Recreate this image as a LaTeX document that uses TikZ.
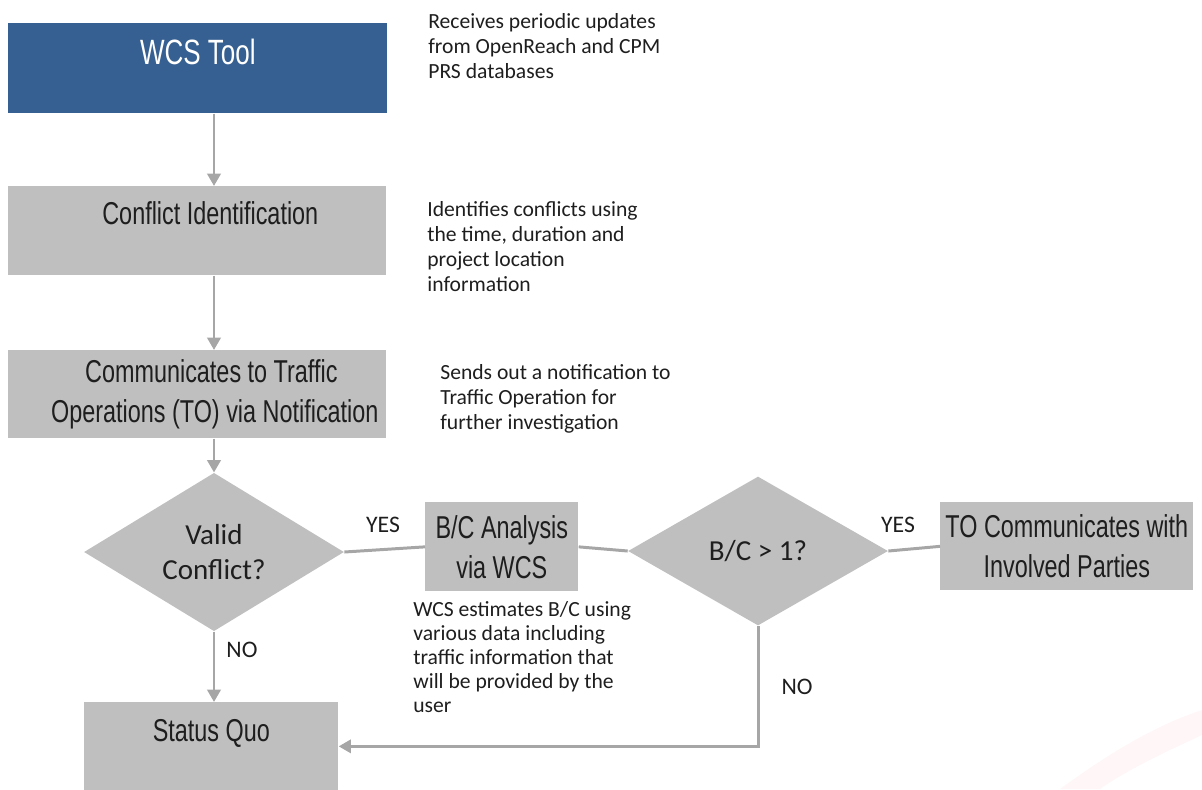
\documentclass[tikz,border=0pt]{standalone}
\usepackage{fontspec}
\setmainfont{Carlito}
\newfontfamily\boxfont[FakeStretch=0.74]{Liberation Sans}
\usepackage{xcolor}
\usetikzlibrary{arrows.meta,shapes.geometric}

\definecolor{wcsblue}{RGB}{55,96,146}
\definecolor{boxgray}{RGB}{191,191,191}
\definecolor{linegray}{RGB}{166,166,166}
\definecolor{inkgray}{RGB}{30,30,30}

\begin{document}
\begin{tikzpicture}[x=0.02cm,y=-0.02cm,
    >={Triangle[width=7.5pt,length=7pt]},
    stepbox/.style={fill=boxgray, inner sep=0pt, align=center,
        text=inkgray, font=\boxfont\fontsize{18}{22.7}\selectfont},
    decision/.style={diamond, fill=boxgray, inner sep=0pt,
        minimum width=5.2cm, minimum height=3cm, align=center,
        text=inkgray, font=\fontsize{16.5}{19.8}\selectfont},
    note/.style={align=left, inner sep=0pt, text=inkgray,
        font=\fontsize{12.3}{14.2}\selectfont},
    answer/.style={inner sep=0pt, text=inkgray,
        font=\fontsize{13.5}{16}\selectfont},
    flow/.style={draw=linegray, line width=1.7pt}]

    \useasboundingbox (0,0) rectangle (1202,789);

    % -- faint swoosh in the lower right corner --
    \fill[red!3] (1060,789) .. controls (1120,745) and (1165,722) .. (1202,710)
        -- (1202,735) .. controls (1170,750) and (1130,768) .. (1100,789) -- cycle;

    % -- Main column of boxes --
    % WCS tool at the top
    \node[stepbox, fill=wcsblue, text=white, anchor=north west,
          minimum width=7.58cm, text height=0.83cm, text depth=0.97cm,
          font=\boxfont\fontsize{20}{24}\selectfont] (wcs) at (8,23) {WCS Tool};

    % conflict identification (text sits a little right of centre)
    \node[stepbox, anchor=north west, minimum width=7.56cm,
          text height=0.76cm, text depth=1.02cm] (conf) at (8,186)
        {\hspace*{0.52cm}Conflict Identification};

    % notification to traffic operations
    \node[stepbox, anchor=north west, minimum width=7.56cm,
          minimum height=1.76cm] (comm) at (8,350)
        {\hspace*{0.56cm}Communicates to Traffic\\
         \hspace*{0.7cm}Operations (TO) via Notification};

    % first decision
    \node[decision] (valid) at (214,552) {Valid\\Conflict?};

    % status quo at the bottom
    \node[stepbox, anchor=north west, minimum width=5.08cm,
          text height=0.78cm, text depth=0.98cm] (status) at (84,702)
        {Status Quo};

    % -- Right branch --
    \node[stepbox, anchor=north west, minimum width=3.06cm,
          minimum height=1.78cm] (bca) at (425,502) {B/C Analysis\\via WCS};

    \node[decision, minimum width=5.2cm, minimum height=2.98cm] (ratio)
        at (758,551) {B/C > 1?};

    \node[stepbox, anchor=north west, minimum width=5.06cm,
          minimum height=1.76cm] (parties) at (940,502)
        {TO Communicates with\\Involved Parties};

    % -- Side notes (anchored at the baseline of their last line) --
    \node[note, anchor=base west] (recvnote) at (428,78)
        {Receives periodic updates\\from OpenReach and CPM\\PRS databases};
    \node[note, anchor=base west] (confnote) at (427,291)
        {Identifies conflicts using\\the time, duration and\\project location\\information};
    \node[note, anchor=base west] (commnote) at (440,429)
        {Sends out a notification to\\Traffic Operation for\\further investigation};
    \node[note, anchor=base west, font=\fontsize{12.3}{13.6}\selectfont] (bcanote)
        at (413,712) {WCS estimates B/C using\\various data including\\traffic information that\\will be provided by the\\user};

    % -- Connectors --
    \draw[flow,->] (wcs.south -| valid.north) -- (conf.north -| valid.north);
    \draw[flow,->] (conf.south -| valid.north) -- (comm.north -| valid.north);
    \draw[flow,->] (comm.south -| valid.north) -- (valid.north);

    % YES branches
    \draw[flow] (valid.east) -- (bca.west);
    \draw[flow] (bca.east) -- (ratio.west);
    \draw[flow] (ratio.east) -- (parties.west);

    % NO branches
    \draw[flow,->] (valid.south) -- (status.north -| valid.south);
    \draw[flow,->] (ratio.south) -- (ratio.south |- status.east) -- (status.east);

    % -- Answer labels --
    \node[answer] (yesvalid) at (383,525) {YES};
    \node[answer] (yesratio) at (898,525) {YES};
    \node[answer] (novalid) at (242,650) {NO};
    \node[answer] (noratio) at (797,687) {NO};

\end{tikzpicture}
\end{document}
